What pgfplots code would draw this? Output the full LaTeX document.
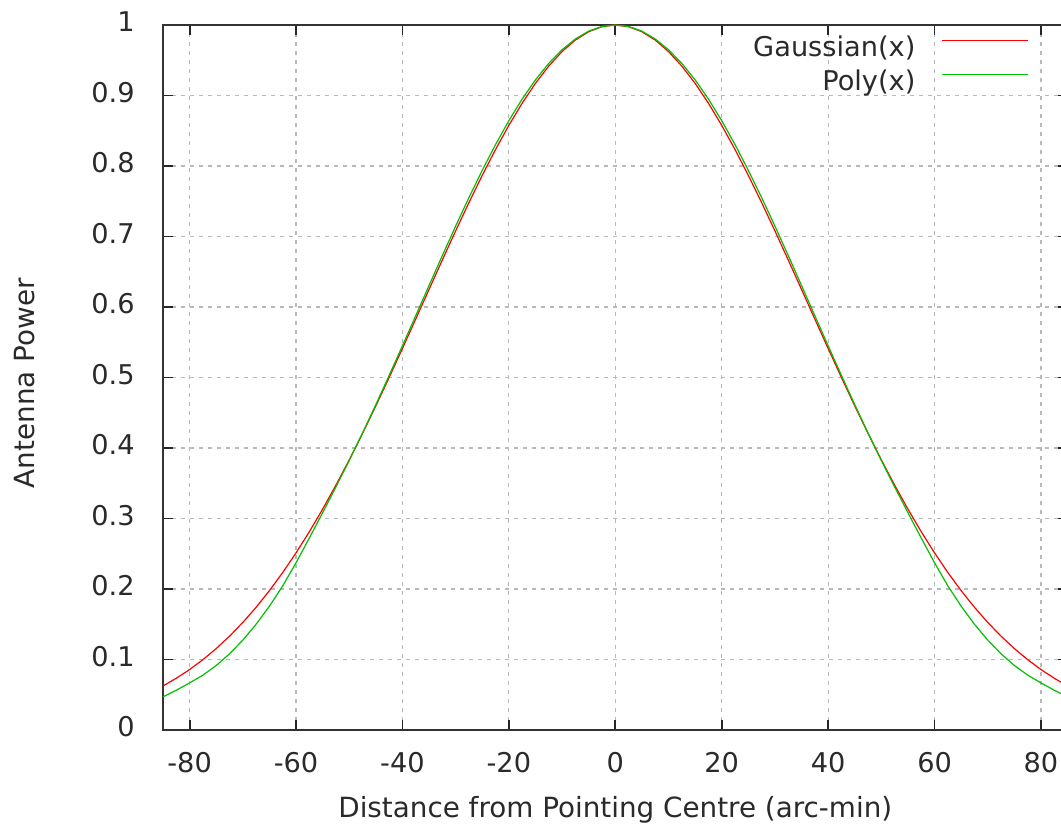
\documentclass[border=0pt]{standalone}
\usepackage{fontspec}
\setmainfont{DejaVu Sans}
\usepackage{pgfplots}
\pgfplotsset{compat=1.18}
\usepackage{pgfplotstable}

\definecolor{gpred}{HTML}{FF0000}
\definecolor{gpgreen}{HTML}{00C000}
\definecolor{txt}{HTML}{2A2A2A}

% Primary beam response: Gaussian (FWHM 85 arc-min) and polynomial model
\pgfplotstableread{
x      gauss    poly
-85    0.06250  0.0470
-82.5  0.07339  0.0564
-80    0.08577  0.0668
-77.5  0.09977  0.0778
-75    0.11549  0.0915
-72.5  0.13304  0.1080
-70    0.15253  0.1275
-67.5  0.17404  0.1500
-65    0.19763  0.1756
-62.5  0.22335  0.2044
-60    0.25120  0.2372
-57.5  0.28118  0.2722
-55    0.31324  0.3082
-52.5  0.34725  0.3447
-50    0.38313  0.3823
-47.5  0.42070  0.4213
-45    0.45974  0.4615
-42.5  0.50000  0.5029
-40    0.54118  0.5451
-37.5  0.58295  0.5877
-35    0.62494  0.6305
-32.5  0.66675  0.6730
-30    0.70798  0.7148
-27.5  0.74811  0.7552
-25    0.78675  0.7939
-22.5  0.82343  0.8304
-20    0.85770  0.8643
-17.5  0.88912  0.8950
-15    0.91728  0.9222
-12.5  0.94180  0.9456
-10    0.96235  0.9649
-7.5   0.97864  0.9802
-5     0.99045  0.9913
-2.5   0.99760  0.9979
0      1.00000  1.0000
2.5    0.99760  0.9979
5      0.99045  0.9913
7.5    0.97864  0.9802
10     0.96235  0.9649
12.5   0.94180  0.9456
15     0.91728  0.9222
17.5   0.88912  0.8950
20     0.85770  0.8643
22.5   0.82343  0.8304
25     0.78675  0.7939
27.5   0.74811  0.7552
30     0.70798  0.7148
32.5   0.66675  0.6730
35     0.62494  0.6305
37.5   0.58295  0.5877
40     0.54118  0.5451
42.5   0.50000  0.5029
45     0.45974  0.4615
47.5   0.42070  0.4213
50     0.38313  0.3823
52.5   0.34725  0.3447
55     0.31324  0.3082
57.5   0.28118  0.2722
60     0.25120  0.2372
62.5   0.22335  0.2044
65     0.19763  0.1756
67.5   0.17404  0.1500
70     0.15253  0.1275
72.5   0.13304  0.1080
75     0.11549  0.0915
77.5   0.09977  0.0778
80     0.08577  0.0668
82.5   0.07339  0.0564
85     0.06250  0.0470
}\beam

\begin{document}
\fontsize{13.6pt}{16pt}\selectfont
\begin{tikzpicture}
% frame of the figure; the right end of the plot runs past it
\path[use as bounding box, clip] (-81.5pt,-47.5pt) rectangle (449pt,365pt);
\begin{axis}[
  at={(0pt,0pt)}, anchor=south west,
  scale only axis, width=452.3pt, height=352.5pt,
  xmin=-85, xmax=85, ymin=0, ymax=1,
  xtick={-80,-60,-40,-20,0,20,40,60,80},
  xticklabels={-80,-60,-40,-20,0,20,40,60,80},
  ytick={0,0.1,0.2,0.3,0.4,0.5,0.6,0.7,0.8,0.9,1},
  yticklabels={0,0.1,0.2,0.3,0.4,0.5,0.6,0.7,0.8,0.9,1},
  tick align=inside,
  major tick length=5pt,
  tick style={black!85, line width=0.9pt},
  axis line style={black!80, line width=1pt},
  grid=major,
  major grid style={gray!55, line width=0.55pt, dash pattern=on 2pt off 2.5pt},
  every tick label/.append style={font=\fontsize{13.6pt}{16pt}\selectfont, text=txt, inner sep=0pt},
  xticklabel style={yshift=-11pt},
  yticklabel style={xshift=-14pt, yshift=1.5pt},
  xlabel={Distance from Pointing Centre (arc-min)},
  ylabel={Antenna Power},
  label style={font=\fontsize{13.9pt}{16pt}\selectfont, text=txt, inner sep=0pt},
  xlabel style={at={(rel axis cs:0.5,0)}, anchor=base, yshift=-43.5pt},
  ylabel style={at={(rel axis cs:0,0.492)}, anchor=base, yshift=64pt},
  legend cell align=right,
  legend plot pos=right,
  legend image code/.code={\draw[#1] (0pt,3.8pt) -- (43pt,3.8pt);},
  legend style={draw=none, fill=none, inner sep=0pt,
    at={(rel axis cs:0.9573,0.9433)}, anchor=east,
    font=\fontsize{13.6pt}{16pt}\selectfont, text=txt,
    nodes={inner sep=0pt, text height=10.9pt, text depth=2.7pt},
    column sep=13pt, row sep=3.4pt},
]
\addplot[gpred, line width=0.6pt] table[x=x, y=gauss] {\beam};
\addlegendentry{Gaussian(x)}
\addplot[gpgreen, line width=0.6pt] table[x=x, y=poly] {\beam};
\addlegendentry{Poly(x)}
\end{axis}
\end{tikzpicture}
\end{document}
